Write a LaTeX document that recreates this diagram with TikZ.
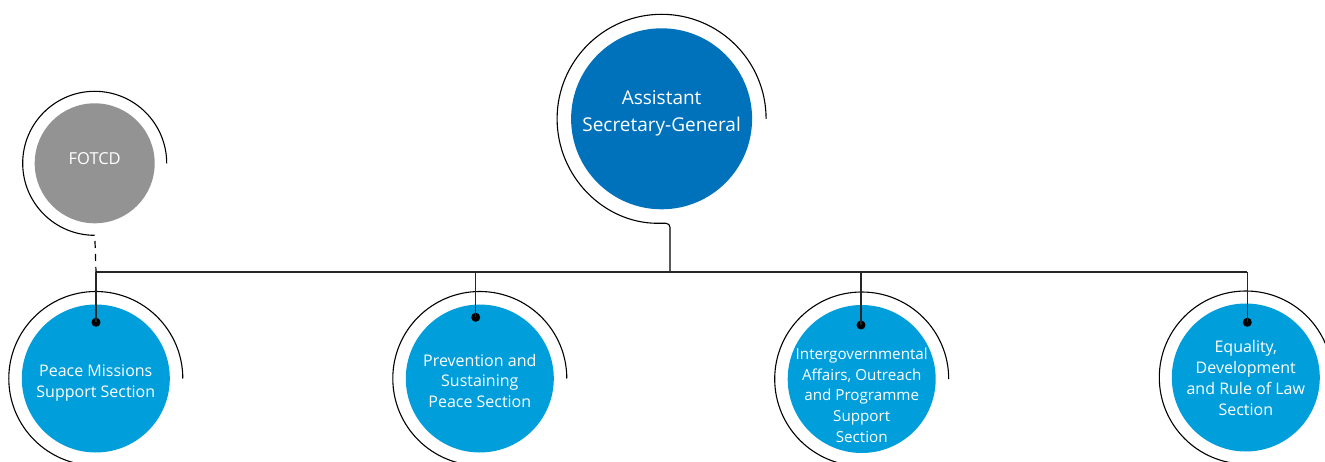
\documentclass[tikz,border=0pt]{standalone}
\usepackage{fontspec}
\setmainfont{Open Sans}
\definecolor{asgblue}{RGB}{0,114,188}
\definecolor{secblue}{RGB}{0,158,219}
\definecolor{fotgray}{RGB}{147,147,147}
\begin{document}
\begin{tikzpicture}[x=1pt,y=-1pt,
  ring/.style={draw=black,line width=1.1pt},
  link/.style={draw=black!85,line width=1.2pt},
  secdisk/.style={circle,fill=secblue,minimum size=148pt,inner sep=0pt},
  sectext/.style={text=white,align=center,font=\fontsize{16}{20.7}\selectfont},
  dot/.style={circle,fill=black,minimum size=9pt,inner sep=0pt}]
\clip (0,0) rectangle (1325,462);
% ASG
\node[circle,fill=asgblue,minimum size=181pt,inner sep=0pt] (asg) at (661.6,118.8) {};
\node[text=white,align=center,font=\fontsize{19}{26.7}\selectfont] (asgt) at (661.6,113.3) {Assistant\\Secretary-General};
\draw[ring,rounded corners=4pt] (766.1,118.8) arc[start angle=0,end angle=270,radius=104.5pt] -- (670,223.3) coordinate (asgstem) -- (670,272) coordinate (asgbus);
% FOTCD
\node[circle,fill=fotgray,minimum size=120pt,inner sep=0pt] (fot) at (94.7,163.3) {};
\node[text=white,font=\fontsize{16.5}{18}\selectfont] (fott) at (94.7,158.3) {FOTCD};
\draw[ring] (166.7,163.3) arc[start angle=0,end angle=270,radius=72pt];
\coordinate (fotend) at (95,241);
% sections
\node[secdisk] (pms) at (95.8,378.5) {};
\node[secdisk] (psp) at (479.8,378.5) {};
\node[secdisk] (iao) at (861.7,379) {};
\node[secdisk] (edr) at (1245.8,377.5) {};
\node[sectext] (pmst) at (95.8,383) {Peace Missions\\Support Section};
\node[sectext] (pspt) at (479.8,380.7) {Prevention and\\Sustaining\\Peace Section};
\node[sectext,font=\fontsize{15.2}{20.7}\selectfont] (iaot) at (861.7,395) {Intergovernmental\\Affairs, Outreach\\and Programme\\Support\\Section};
\node[sectext] (edrt) at (1245.8,378) {Equality,\\Development\\and Rule of Law\\Section};
\draw[ring] (182.8,378.5) arc[start angle=0,end angle=270,radius=87pt];
\draw[ring] (566.8,378.5) arc[start angle=0,end angle=270,radius=87pt];
\draw[ring] (948.7,379) arc[start angle=0,end angle=270,radius=87pt];
\draw[ring] (1332.3,377.5) arc[start angle=0,end angle=270,radius=86.5pt];
% dots
\node[dot] (pmsd) at (96,322.3) {};
\node[dot] (pspd) at (475.7,317.3) {};
\node[dot] (iaod) at (861,325) {};
\node[dot] (edrd) at (1247.3,322.3) {};
% bus
\coordinate (bpms) at (96,272);
\coordinate (bpsp) at (475.7,272);
\coordinate (biao) at (861,272);
\coordinate (bedr) at (1247.3,272);
\draw[link] (bpms) -- (bedr);
\draw[link] (bpms) -- (pmsd.center);
\draw[link] (bpsp) -- (pspd.center);
\draw[link] (biao) -- (iaod.center);
\draw[link] (bedr) -- (edrd.center);
\draw[black,line width=1.2pt,dash pattern=on 7pt off 6pt] (fotend) -- (bpms);
\end{tikzpicture}
\end{document}
